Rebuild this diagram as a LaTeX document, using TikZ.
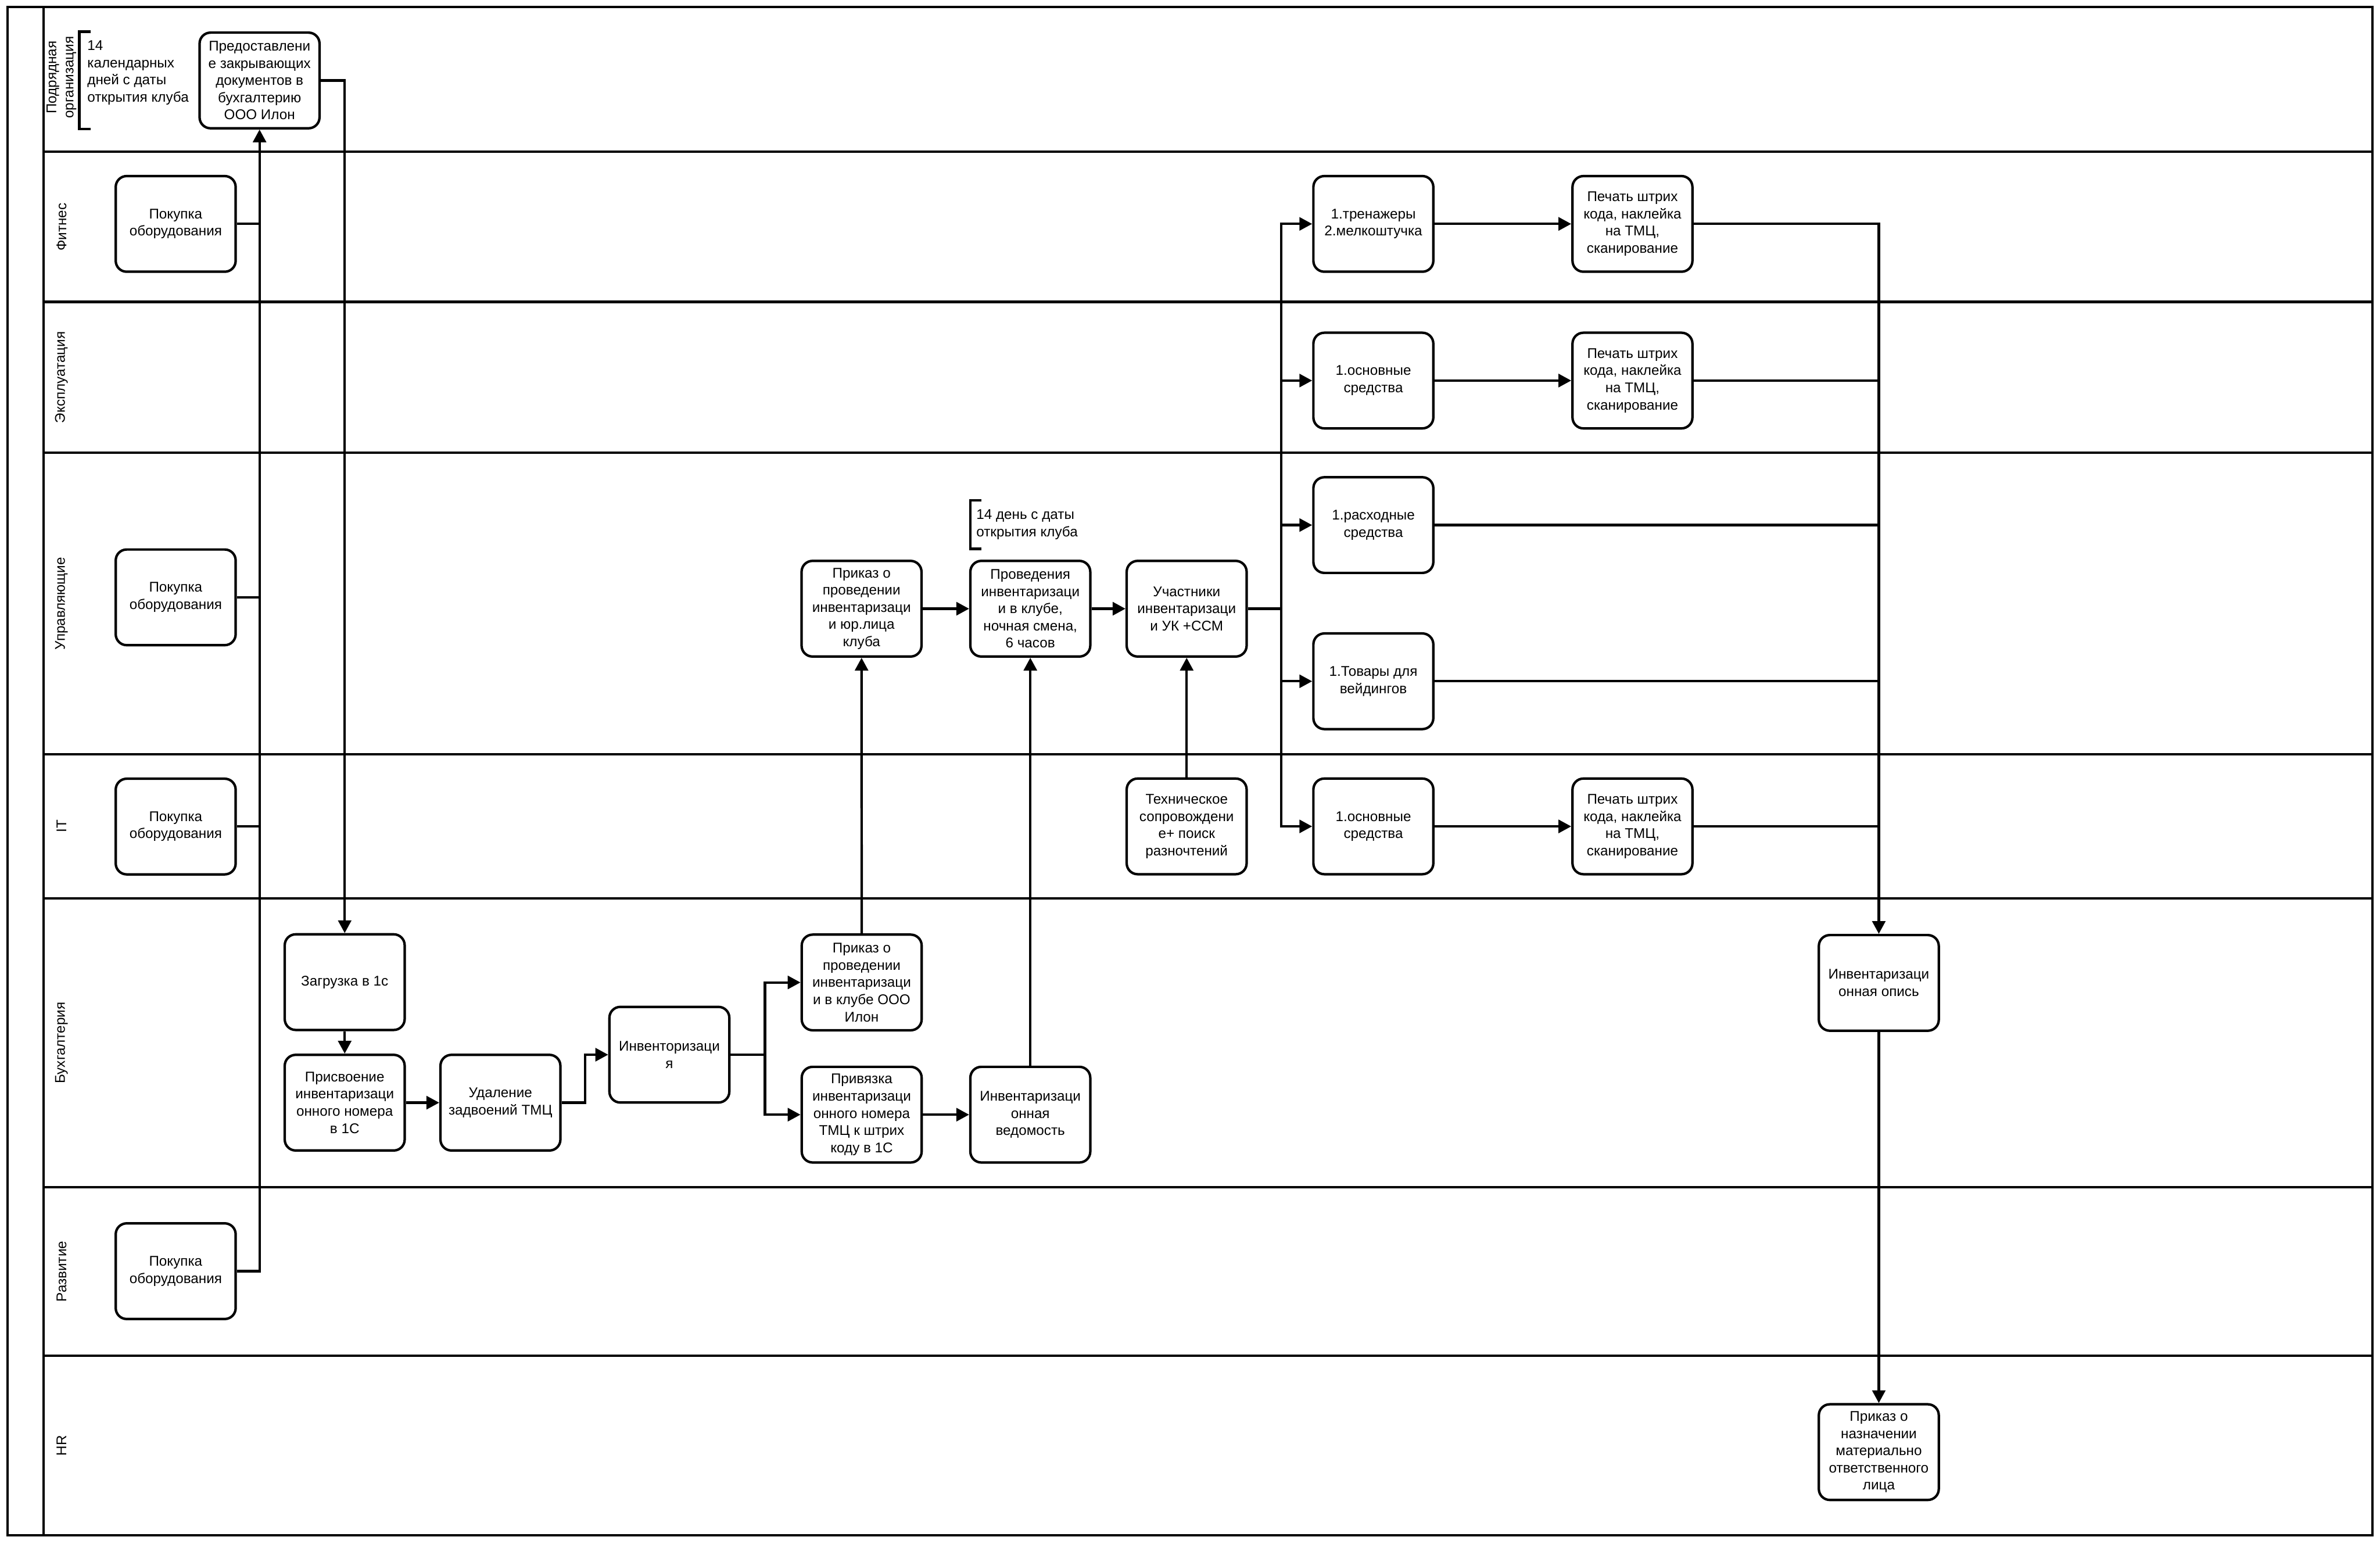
\documentclass[tikz,border=0pt]{standalone}
\usepackage{fontspec}
\setmainfont{Liberation Sans}
\usetikzlibrary{arrows.meta}
\begin{document}
\begin{tikzpicture}[x=0.025cm,y=-0.025cm,
  every node/.style={font=\fontsize{6.6}{8.05}\selectfont},
  box/.style={draw, fill=white, line width=1.15pt, rounded corners=0.18cm,
    minimum width=1.975cm, minimum height=1.575cm, align=center, inner sep=0pt},
  ln/.style={line width=1.15pt},
  arr/.style={ln, -{Triangle[length=0.21cm,width=0.215cm]}},
  lane/.style={line width=1.15pt},
  lanelabel/.style={rotate=90, align=center, inner sep=0pt},
  note/.style={align=left, anchor=west, inner sep=0pt},
  brk/.style={line width=1.3pt}]

\useasboundingbox (0,0) rectangle (1568,1016.8);
\fill[white] (0,0) rectangle (1568,1016.8);

% pool frame and lanes
\draw[lane] (5,4.5) rectangle (1563,1011.5);
\draw[lane] (28.7,4.5) -- (28.7,1011.5);
\foreach \yy in {100,198.9,298.3,496.8,591.8,782.1,893.1}
  \draw[lane] (28.7,\yy) -- (1563,\yy);

% lane labels
\node[lanelabel] (l1) at (40.5,51) {Подрядная\\организация};
\node[lanelabel] (l2) at (40.5,149.5) {Фитнес};
\node[lanelabel] (l3) at (40.5,248.6) {Эксплуатация};
\node[lanelabel] (l4) at (40.5,397.6) {Управляющие};
\node[lanelabel] (l5) at (40.5,544.3) {IT};
\node[lanelabel] (l6) at (40.5,687) {Бухгалтерия};
\node[lanelabel] (l7) at (40.5,837.6) {Развитие};
\node[lanelabel] (l8) at (40.5,952.3) {HR};

% annotations
\draw[brk] (59.8,21) -- (52.3,21) -- (52.3,85) -- (59.8,85);
\node[note] (n1) at (57.3,47.9) {14\\календарных\\дней с даты\\открытия клуба};
\draw[brk] (646.7,329.6) -- (639.3,329.6) -- (639.3,361.7) -- (646.7,361.7);
\node[note] (n2) at (643,345.6) {14 день с даты\\открытия клуба};

% boxes
\node[box] (P1) at (171,53) {Предоставлени\\е закрывающих\\документов в\\бухгалтерию\\ООО Илон};
\node[box] (F1) at (115.75,147.5) {Покупка\\оборудования};
\node[box] (U1) at (115.75,393.5) {Покупка\\оборудования};
\node[box] (I1) at (115.75,544.5) {Покупка\\оборудования};
\node[box] (R1) at (115.75,837.4) {Покупка\\оборудования};

\node[box] (F2) at (904.8,147.5) {1.тренажеры\\2.мелкоштучка};
\node[box] (F3) at (1075.5,147.5) {Печать штрих\\кода, наклейка\\на ТМЦ,\\сканирование};
\node[box] (E1) at (904.8,250.7) {1.основные\\средства};
\node[box] (E2) at (1075.5,250.7) {Печать штрих\\кода, наклейка\\на ТМЦ,\\сканирование};
\node[box] (U5) at (904.8,345.9) {1.расходные\\средства};
\node[box] (U6) at (904.8,448.8) {1.Товары для\\вейдингов};

\node[box] (U2) at (567.6,401) {Приказ о\\проведении\\инвентаризаци\\и юр.лица\\клуба};
\node[box] (U3) at (678.8,401) {Проведения\\инвентаризаци\\и в клубе,\\ночная смена,\\6 часов};
\node[box] (U4) at (781.8,401) {Участники\\инвентаризаци\\и УК +ССМ};

\node[box] (I2) at (781.8,544.4) {Техническое\\сопровождени\\е+ поиск\\разночтений};
\node[box] (I3) at (904.8,544.4) {1.основные\\средства};
\node[box] (I4) at (1075.5,544.4) {Печать штрих\\кода, наклейка\\на ТМЦ,\\сканирование};

\node[box] (B1) at (227.1,647) {Загрузка в 1с};
\node[box] (B2) at (227.1,726.4) {Присвоение\\инвентаризаци\\онного номера\\в 1С};
\node[box] (B3) at (329.7,726.4) {Удаление\\задвоений ТМЦ};
\node[box] (B4) at (441,694.8) {Инвенторизаци\\я};
\node[box] (B5) at (567.7,647.2) {Приказ о\\проведении\\инвентаризаци\\и в клубе ООО\\Илон};
\node[box] (B6) at (567.7,734.3) {Привязка\\инвентаризаци\\онного номера\\ТМЦ к штрих\\коду в 1С};
\node[box] (B7) at (678.8,734.3) {Инвентаризаци\\онная\\ведомость};
\node[box] (B8) at (1237.8,647.5) {Инвентаризаци\\онная опись};
\node[box] (H1) at (1237.8,956.6) {Приказ о\\назначении\\материально\\ответственного\\лица};

% junction coordinates
\coordinate (j1) at (385.5,0);
\coordinate (j2) at (504,0);
\coordinate (j3) at (844,0);

% purchases -> contractor
\draw[arr] (R1.east) -| (P1.south);
\draw[ln] (F1.east) -- (F1.east -| P1.south);
\draw[ln] (U1.east) -- (U1.east -| P1.south);
\draw[ln] (I1.east) -- (I1.east -| P1.south);

% contractor -> accounting
\draw[arr] (P1.east) -| (B1.north);
\draw[arr] (B1) -- (B2);
\draw[arr] (B2) -- (B3);
\draw[arr] (B3.east) -- (B3.east -| j1) |- (B4.west);
\draw[ln] (B4.east) -- (B4.east -| j2);
\draw[arr] (B4.east -| j2) |- (B5.west);
\draw[arr] (B4.east -| j2) |- (B6.west);
\draw[arr] (B6) -- (B7);
\draw[arr] (B5) -- (U2);
\draw[arr] (B7) -- (U3);

% managers
\draw[arr] (U2) -- (U3);
\draw[arr] (U3) -- (U4);
\draw[arr] (I2) -- (U4);
\draw[ln] (U4.east) -- (U4.east -| j3);
\draw[arr] (U4.east -| j3) |- (F2.west);
\draw[arr] (U4.east -| j3) |- (E1.west);
\draw[arr] (U4.east -| j3) |- (U5.west);
\draw[arr] (U4.east -| j3) |- (U6.west);
\draw[arr] (U4.east -| j3) |- (I3.west);

\draw[arr] (F2) -- (F3);
\draw[arr] (E1) -- (E2);
\draw[arr] (I3) -- (I4);

% collect -> inventory list
\draw[arr] (F3.east) -| (B8.north);
\draw[ln] (E2.east) -- (E2.east -| B8.north);
\draw[ln] (U5.east) -- (U5.east -| B8.north);
\draw[ln] (U6.east) -- (U6.east -| B8.north);
\draw[ln] (I4.east) -- (I4.east -| B8.north);
\draw[arr] (B8) -- (H1);
\end{tikzpicture}
\end{document}
